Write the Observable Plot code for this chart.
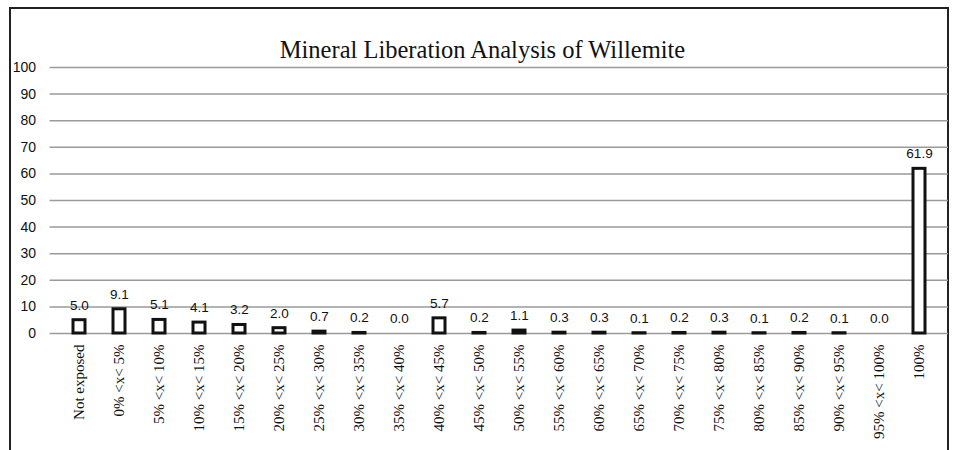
<!DOCTYPE html>
<html>
<head>
<meta charset="utf-8">
<script src="https://cdn.jsdelivr.net/npm/d3@7"></script>
<script src="https://cdn.jsdelivr.net/npm/@observablehq/plot@0.6"></script>
<style>
  html, body { margin: 0; padding: 0; background: #fff; }
  #wrap { position: relative; width: 955px; height: 450px; overflow: hidden; }
  #frame { position: absolute; left: 9px; top: 7px; width: 936px; height: 460px;
           border-left: 2px solid #222; border-top: 2px solid #222; border-right: 2px solid #222; }
  #title { position: absolute; left: 0; width: 965px; top: 37px; text-align: center;
           font-family: "Liberation Serif", "Times New Roman", serif; font-size: 24.5px; color: #111; line-height: 26px; }
  #chart { position: absolute; left: 0; top: 0; }
</style>
</head>
<body>
<div id="wrap">
  <div id="frame"></div>
  <div id="chart"></div>
  <div id="title">Mineral Liberation Analysis of Willemite</div>
</div>
<script>
const categories = ["Not exposed", "0% <x< 5%", "5% <x< 10%", "10% <x< 15%", "15% <x< 20%", "20% <x< 25%",
  "25% <x< 30%", "30% <x< 35%", "35% <x< 40%", "40% <x< 45%", "45% <x< 50%", "50% <x< 55%",
  "55% <x< 60%", "60% <x< 65%", "65% <x< 70%", "70% <x< 75%", "75% <x< 80%", "80% <x< 85%",
  "85% <x< 90%", "90% <x< 95%", "95% <x< 100%", "100%"];
const values = [5.0, 9.1, 5.1, 4.1, 3.2, 2.0, 0.7, 0.2, 0.0, 5.7, 0.2, 1.1, 0.3, 0.3, 0.1, 0.2, 0.3, 0.1, 0.2, 0.1, 0.0, 61.9];
const yTicks = [0, 10, 20, 30, 40, 50, 60, 70, 80, 90, 100];

const data = categories.map((c, i) => ({cat: c, value: values[i]}));

const chart = Plot.plot({
  width: 955,
  height: 450,
  marginTop: 67,
  marginBottom: 117,
  marginLeft: 49.6,
  marginRight: 7,
  style: {background: "transparent", fontFamily: "'Liberation Sans', Arial, sans-serif", fontSize: "13px", color: "#111"},
  x: {domain: categories, paddingInner: 0.705, paddingOuter: 0.3525, label: null},
  y: {domain: [0, 100], label: null},
  marks: [
    Plot.ruleY(yTicks, {stroke: "#9a9a9a", strokeWidth: 1.5}),
    Plot.barY(data, {x: "cat", y: "value", fill: "white", stroke: "#111", strokeWidth: 3}),
    Plot.text(data, {x: "cat", y: "value", text: d => d.value.toFixed(1), dy: -15, fontSize: 13.5, fill: "#111"}),
    Plot.axisY(yTicks, {tickSize: 0, tickPadding: 14, label: null, fontSize: 14}),
    Plot.axisX({tickSize: 0, tickPadding: 11, tickRotate: -90, label: null,
      fontFamily: "'Liberation Serif', 'Times New Roman', serif", fontSize: 15})
  ]
});
document.getElementById("chart").appendChild(chart);
</script>
</body>
</html>
